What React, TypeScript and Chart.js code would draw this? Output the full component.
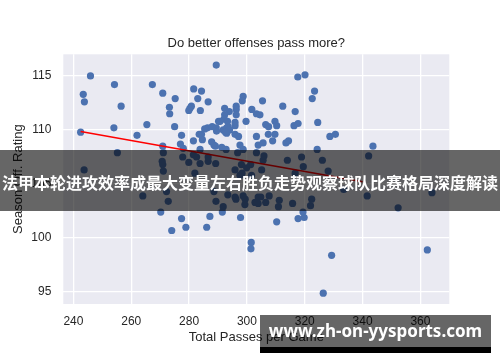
import React, { useEffect, useRef } from "react";
import { Chart, registerables } from "chart.js";

Chart.register(...registerables);

const titleText = "Do better offenses pass more?";
const xTitle = "Total Passes per Game";
const yTitle = "Season Off. Rating";
const bannerText = "法甲本轮进攻效率成最大变量左右胜负走势观察球队比赛格局深度解读";
const watermarkText = "www.zh-on-yysports.com";

const passes = [
  245.9, 243.4, 243.8, 254.2, 256.5, 267.3, 270.9, 275.2, 273.2, 273.3,
  289.4, 281.6, 284.3, 283.0, 286.6, 280.8, 280.3, 279.9, 283.9, 292.3,
  293.9, 292.3, 292.1, 290.2, 296.3, 296.3, 296.3, 298.7, 298.4, 299.7,
  301.7, 303.3, 304.5, 305.4, 312.4, 316.7, 317.6, 320.1, 323.4, 322.6,
  324.5, 317.7, 316.3, 309.7, 310.3, 306.5, 307.5, 295.9, 293.5, 293.0,
  289.4, 286.4, 285.4, 265.4, 275.0, 254.0, 242.5, 290.7, 293.3, 295.9,
  291.8, 262.0, 277.4, 281.5, 283.5, 277.0, 255.2, 270.9, 271.1, 281.5,
  287.8, 288.6, 291.3, 292.8, 289.5, 295.9, 297.1, 303.3, 303.9, 305.6,
  307.4, 308.9, 309.7, 313.5, 314.4, 328.7, 330.6, 324.3, 343.6, 342.1,
  296.8, 284.3, 289.1, 293.0, 297.6, 294.0, 292.6, 303.3, 305.9, 318.9,
  277.8, 282.6, 286.6, 284.6, 278.0, 283.8, 288.0, 298.7,
  243.7, 264.0, 270.7, 271.1, 270.9, 272.8, 279.9, 283.8, 282.0, 286.6,
  289.2, 288.6, 289.3, 291.8, 295.9, 298.3, 296.2, 299.3, 301.3, 302.8,
  306.5, 307.7, 311.2, 314.0, 315.8, 316.7, 319.5, 322.4, 322.0, 326.1,
  328.1, 333.5, 341.6, 352.3, 364.0, 272.2, 293.4, 295.9, 299.4, 303.9,
  310.9, 297.6, 298.1, 299.9, 301.6, 298.7, 305.1, 305.6, 303.9, 304.8,
  270.2, 277.4, 287.2, 291.5, 297.8, 310.3, 317.7, 319.8, 274.0, 278.9,
  286.1, 301.5, 301.4, 329.3, 326.4, 362.4, 319.4,
];

const rating = [
  115.0, 113.3, 112.6, 114.2, 112.2, 114.2, 113.4, 112.9, 112.1, 111.5,
  116.0, 113.8, 113.6, 112.9, 112.6, 112.2, 112.0, 111.8, 111.8, 112.0,
  111.7, 111.4, 111.0, 110.8, 112.2, 111.9, 111.4, 113.1, 112.7, 110.8,
  111.9, 111.5, 111.4, 112.7, 112.2, 111.7, 114.9, 115.1, 113.6, 112.9,
  110.7, 110.6, 110.4, 110.8, 110.4, 110.5, 110.3, 110.4, 110.3, 110.2,
  110.2, 110.2, 110.1, 110.5, 110.3, 110.2, 109.8, 110.8, 110.8, 110.7,
  110.0, 109.5, 109.5, 109.0, 109.6, 108.7, 107.9, 108.5, 107.9, 107.7,
  108.9, 108.6, 108.4, 108.2, 109.9, 109.6, 109.4, 109.4, 108.6, 108.8,
  109.6, 109.0, 109.6, 108.8, 109.0, 109.4, 109.6, 108.2, 108.5, 107.6,
  107.9, 109.6, 108.5, 109.7, 108.6, 110.0, 109.8, 107.9, 107.6, 107.5,
  107.5, 107.5, 107.5, 109.1, 108.3, 108.2, 110.3, 108.2,
  106.3, 103.9, 107.1, 106.2, 106.8, 103.4, 107.0, 106.9, 106.0, 107.1,
  106.9, 104.3, 103.4, 102.9, 106.3, 106.0, 103.6, 103.1, 106.8, 103.3,
  103.3, 103.9, 103.5, 107.2, 103.2, 106.0, 106.6, 103.6, 103.0, 107.2,
  106.2, 104.5, 103.9, 102.8, 104.2, 104.3, 104.0, 103.8, 103.6, 103.8,
  102.9, 105.8, 106.8, 106.5, 105.8, 103.9, 106.3, 107.2, 103.2, 103.8,
  102.4, 101.8, 102.0, 102.4, 101.9, 101.5, 101.8, 101.9, 100.7, 101.0,
  101.0, 99.6, 99.0, 98.4, 94.9, 98.9, 102.4,
];

const fitPasses = [242.5, 340.0];
const fitRating = [109.85, 105.2];

const FONT = "'Liberation Sans', Arial, sans-serif";
const TEXT = "#262626";

export default function App() {
  const ref = useRef<HTMLCanvasElement | null>(null);

  useEffect(() => {
    if (!ref.current) return;
    const points = passes.map((x, i) => ({ x, y: rating[i] }));
    const fit = fitPasses.map((x, i) => ({ x, y: fitRating[i] }));
    const bgPlugin = {
      id: "plotBg",
      beforeDraw(chart: any) {
        const { ctx, chartArea } = chart;
        ctx.save();
        ctx.fillStyle = "#EAEAF2";
        ctx.fillRect(chartArea.left, chartArea.top, chartArea.right - chartArea.left, chartArea.bottom - chartArea.top);
        ctx.restore();
      },
      afterDraw(chart: any) {
        const { ctx, chartArea } = chart;
        ctx.save();
        ctx.fillStyle = TEXT;
        ctx.font = `13px ${FONT}`;
        ctx.textAlign = "center";
        ctx.textBaseline = "middle";
        ctx.fillText(titleText, (chartArea.left + chartArea.right) / 2, 43);
        ctx.restore();
      },
    };
    const chart = new Chart(ref.current, {
      type: "scatter",
      data: {
        datasets: [
          {
            type: "line",
            data: fit,
            borderColor: "#ff0000",
            borderWidth: 1.5,
            pointRadius: 0,
            fill: false,
            order: 0,
          } as any,
          {
            type: "scatter",
            data: points,
            backgroundColor: "#4C72B0",
            borderWidth: 0,
            pointRadius: 3.6,
            pointHoverRadius: 3.6,
            order: 1,
          },
        ],
      },
      options: {
        responsive: false,
        animation: false,
        events: [],
        layout: { padding: { left: 0, right: 50.7, top: 54.3, bottom: 0 } },
        plugins: {
          legend: { display: false },
          tooltip: { enabled: false },
          title: { display: false },
        },
        scales: {
          x: {
            type: "linear",
            min: 236.5,
            max: 370,
            border: { display: false },
            grid: { color: "#ffffff", lineWidth: 1.3, drawTicks: false },
            ticks: {
              stepSize: 20,
              includeBounds: false,
              color: TEXT,
              font: { family: FONT, size: 12 },
              padding: 10,
            },
            title: {
              display: true,
              text: xTitle,
              color: TEXT,
              font: { family: FONT, size: 13 },
              padding: { top: 0, bottom: 17.2 },
            },
            afterFit: (s: any) => {
              s.height = 58;
            },
          },
          y: {
            type: "linear",
            min: 93.9,
            max: 117.0,
            border: { display: false },
            grid: { color: "#ffffff", lineWidth: 1.3, drawTicks: false },
            ticks: {
              stepSize: 5,
              includeBounds: false,
              color: TEXT,
              font: { family: FONT, size: 12 },
              padding: 12,
            },
            title: {
              display: true,
              text: yTitle,
              color: TEXT,
              font: { family: FONT, size: 13 },
              padding: { top: 10.2, bottom: 0 },
            },
            afterFit: (s: any) => {
              s.width = 63.3;
            },
          },
        },
      },
      plugins: [bgPlugin],
    });
    return () => chart.destroy();
  }, []);

  return (
    <div style={{ position: "fixed", left: 0, top: 0, width: 500, height: 362, background: "#ffffff" }}>
      <canvas ref={ref} width={500} height={362} style={{ display: "block" }} />
      <div
        style={{
          position: "absolute",
          left: 0,
          top: 150,
          width: 500,
          height: 61,
          background: "rgba(0,0,0,0.6)",
          color: "#ffffff",
          fontFamily: "'Noto Sans CJK SC', sans-serif",
          fontWeight: 700,
          fontSize: 16,
          lineHeight: "61px",
          textAlign: "center",
          whiteSpace: "nowrap",
          overflow: "hidden",
        }}
      >
        <span style={{ position: "relative", top: 2 }}>{bannerText}</span>
      </div>
      <div
        style={{
          position: "absolute",
          left: 260,
          top: 315,
          width: 231,
          height: 32,
          background: "rgba(0,0,0,0.6)",
          color: "#ffffff",
          fontFamily: "'Noto Sans', sans-serif",
          fontWeight: 700,
          fontSize: 17,
          lineHeight: "32px",
          textAlign: "center",
          whiteSpace: "nowrap",
        }}
      >
        {watermarkText}
      </div>
      <div style={{ position: "absolute", left: 260, top: 347, width: 231, height: 6, background: "#000000" }} />
    </div>
  );
}
